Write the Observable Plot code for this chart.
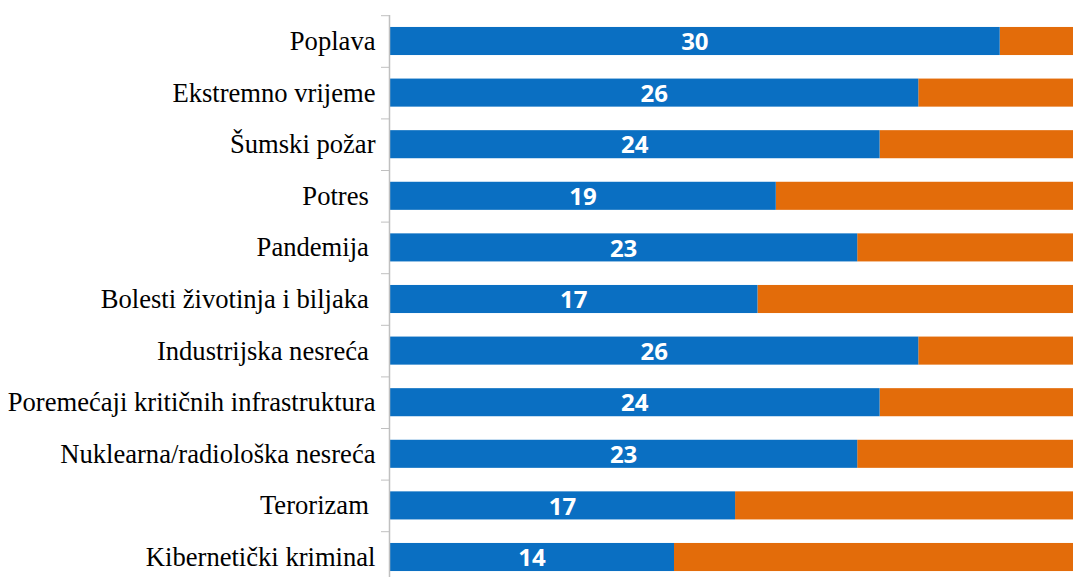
<!DOCTYPE html>
<html><head><meta charset="utf-8">
<script src="https://cdn.jsdelivr.net/npm/d3@7"></script>
<script src="https://cdn.jsdelivr.net/npm/@observablehq/plot@0.6"></script>
<style>
body{margin:0;background:#fff;}
svg text{white-space:pre;}
</style></head><body><div id="chart"></div>
<script>
const categories = ["Poplava","Ekstremno vrijeme","Šumski požar","Potres ","Pandemija ","Bolesti životinja i biljaka ","Industrijska nesreća ","Poremećaji kritičnih infrastruktura","Nuklearna/radiološka nesreća","Terorizam ","Kibernetički kriminal"];
// printed labels
const labels = [30,26,24,19,23,17,26,24,23,17,14];
// bar lengths as drawn in the picture
const values = [30,26,24.1,19,23,18.1,26,24.1,23,17,14];
const total = 34;
const rows = categories.map((c,i)=>({category:c, value:values[i], label:labels[i], total}));

const blue = "#0A6FC2", orange = "#E36C0A";
const step = 51.6, top0 = 15.2;

const chart = Plot.plot({
  width: 1073,
  height: 577,
  marginLeft: 389,
  marginRight: 0,
  marginTop: 15,
  marginBottom: 0,
  style: {background: "#fff", overflow: "hidden"},
  x: {domain: [0, 33.6], axis: null},
  y: {domain: categories, range: [top0, top0 + step * categories.length], paddingInner: 0.456, paddingOuter: 0.228, round: false, label: null},
  marks: [
    Plot.barX(rows, {y: "category", x1: "value", x2: "total", fill: orange, clip: true}),
    Plot.barX(rows, {y: "category", x1: 0, x2: "value", fill: blue}),
    Plot.text(rows, {y: "category", x: d => d.value / 2, text: d => String(d.label), fill: "white", fontFamily: "Open Sans", fontWeight: 700, fontSize: 24, dy: 1}),
    Plot.ruleX([0], {stroke: "#c0c0c0", strokeWidth: 1.5}),
    Plot.axisY({tickSize: 8, tickFormat: () => "", stroke: "#c0c0c0", dy: -step / 2}),
    Plot.axisY({tickSize: 0, tickPadding: 14, fontFamily: "Liberation Serif", fontSize: 26.6, fill: "#000", label: null})
  ]
});
document.getElementById("chart").append(chart);
</script></body></html>
